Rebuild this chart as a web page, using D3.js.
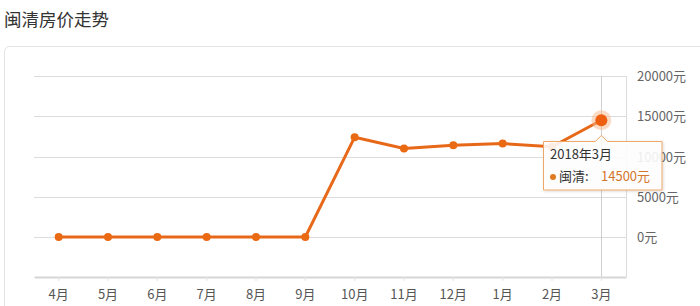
<!DOCTYPE html>
<html>
<head>
<meta charset="utf-8">
<script src="https://cdn.jsdelivr.net/npm/d3@7"></script>
<style>
  body { margin: 0; background: #fff; font-family: "Noto Sans CJK SC", "Noto Sans", sans-serif; }
</style>
</head>
<body>
<div class="chart"></div>
<script>
// Data
const months = ["4月", "5月", "6月", "7月", "8月", "9月", "10月", "11月", "12月", "1月", "2月", "3月"];
const prices = [0, 0, 0, 0, 0, 0, 12400, 11000, 11400, 11600, 11200, 14500];
const yTicks = [0, 5000, 10000, 15000, 20000];
const seriesName = "闽清";
const tipTitle = "2018年3月";

const W = 700, H = 306;
const plot = {left: 34, right: 626, top: 76, bottom: 277};

const svg = d3.select(".chart").append("svg")
    .attr("width", W)
    .attr("height", H);

// Title
svg.append("text")
    .attr("x", 4)
    .attr("y", 26)
    .attr("font-size", 17.5)
    .attr("fill", "#333")
    .text("闽清房价走势");

// Card border
svg.append("rect")
    .attr("x", 4.5)
    .attr("y", 46.5)
    .attr("width", 720)
    .attr("height", 300)
    .attr("rx", 5)
    .attr("fill", "none")
    .attr("stroke", "#e3e3e3");

const x = d3.scaleBand().domain(months).range([plot.left, plot.right]);
const y = d3.scaleLinear().domain([0, 20000]).range([237, 76]);

// Grid lines
svg.append("g")
    .selectAll("line")
    .data(yTicks)
    .join("line")
    .attr("x1", plot.left)
    .attr("x2", plot.right)
    .attr("y1", d => Math.round(y(d)) + 0.5)
    .attr("y2", d => Math.round(y(d)) + 0.5)
    .attr("stroke", "#dcdcdc");

// Right border of plot
svg.append("line")
    .attr("x1", plot.right + 0.5).attr("x2", plot.right + 0.5)
    .attr("y1", plot.top).attr("y2", plot.bottom)
    .attr("stroke", "#dcdcdc");

// Y labels on the right
svg.append("g")
    .selectAll("text")
    .data(yTicks)
    .join("text")
    .attr("x", 637)
    .attr("y", d => y(d) + 5)
    .attr("font-size", 13)
    .attr("fill", "#666")
    .text(d => d + "元");

// X axis
const xAxis = svg.append("g")
    .attr("transform", "translate(0," + plot.bottom + ")")
    .call(d3.axisBottom(x).tickSize(4).tickSizeOuter(0).tickPadding(9));
xAxis.select(".domain").attr("stroke", "#d6d6d6").attr("stroke-width", 2);
xAxis.selectAll(".tick line").attr("stroke", "#e4e4e4");
xAxis.selectAll(".tick text")
    .attr("font-size", 13)
    .attr("fill", "#555")
    .attr("font-family", "Noto Sans CJK SC, sans-serif");

const cx = d => x(d) + x.bandwidth() / 2;
const last = months.length - 1;

// Crosshair at the hovered month
svg.append("line")
    .attr("x1", Math.round(cx(months[last])) + 0.5)
    .attr("x2", Math.round(cx(months[last])) + 0.5)
    .attr("y1", plot.top)
    .attr("y2", plot.bottom)
    .attr("stroke", "#cfcfcf");

// Line
const line = d3.line()
    .x((d, i) => cx(months[i]))
    .y(d => y(d));

svg.append("path")
    .datum(prices)
    .attr("fill", "none")
    .attr("stroke", "#e8681a")
    .attr("stroke-width", 3)
    .attr("d", line);

svg.append("g")
    .selectAll("circle")
    .data(prices)
    .join("circle")
    .attr("cx", (d, i) => cx(months[i]))
    .attr("cy", d => y(d))
    .attr("r", 4)
    .attr("fill", "#ea6a14");

// Highlighted point
svg.append("circle")
    .attr("cx", cx(months[last]))
    .attr("cy", y(prices[last]))
    .attr("r", 10)
    .attr("fill", "#f8b888")
    .attr("opacity", 0.5);
svg.append("circle")
    .attr("cx", cx(months[last]))
    .attr("cy", y(prices[last]))
    .attr("r", 6)
    .attr("fill", "#ee6010");

// Tooltip
const tx = 543, ty = 141, tw = 119, th = 49;
const ax = cx(months[last]);
const defs = svg.append("defs");
const f = defs.append("filter").attr("id", "sh").attr("x", "-20%").attr("y", "-20%").attr("width", "140%").attr("height", "140%");
f.append("feDropShadow").attr("dx", 1).attr("dy", 1).attr("stdDeviation", 1.5).attr("flood-color", "#000").attr("flood-opacity", 0.15);

const tip = svg.append("g");
tip.append("path")
    .attr("d", `M${tx + 0.5},${ty + 0.5} H${ax - 6} L${ax},${ty - 5.5} L${ax + 6},${ty + 0.5} H${tx + tw} V${ty + th} H${tx + 0.5} Z`)
    .attr("fill", "rgba(255,255,255,0.88)")
    .attr("stroke", "#f0a868")
    .attr("filter", "url(#sh)");
tip.append("text")
    .attr("x", tx + 7)
    .attr("y", ty + 18)
    .attr("font-size", 13)
    .attr("fill", "#333")
    .text(tipTitle);
tip.append("circle")
    .attr("cx", tx + 10)
    .attr("cy", ty + 36)
    .attr("r", 3)
    .attr("fill", "#e07a20");
tip.append("text")
    .attr("x", tx + 16)
    .attr("y", ty + 40)
    .attr("font-size", 13)
    .attr("fill", "#333")
    .text(seriesName + ":");
tip.append("text")
    .attr("x", tx + 58)
    .attr("y", ty + 40)
    .attr("font-size", 13)
    .attr("fill", "#d4762c")
    .text(prices[last] + "元");
</script>
</body>
</html>
